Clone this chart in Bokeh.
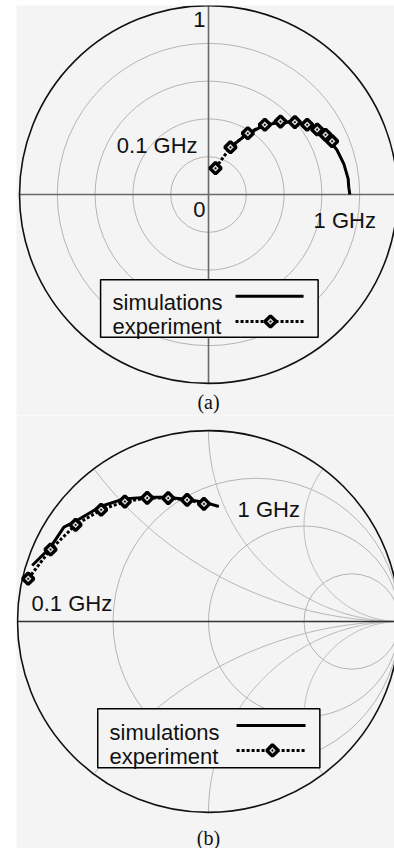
import numpy as np
from bokeh.plotting import figure
from bokeh.layouts import column
from bokeh.models import Range1d, Label
from bokeh.embed import file_html
from bokeh.resources import INLINE

# ---------------- data ----------------
# (a) polar plot: real / imaginary parts
polar_sim_re = [0.116, 0.205, 0.293, 0.381, 0.469, 0.557, 0.628, 0.681, 0.716, 0.739, 0.742, 0.748]
polar_sim_im = [0.250, 0.321, 0.365, 0.383, 0.379, 0.353, 0.303, 0.233, 0.162, 0.083, 0.039, 0.0]
polar_exp_re = [0.037, 0.116, 0.208, 0.298, 0.381, 0.457, 0.522, 0.575, 0.619, 0.654]
polar_exp_im = [0.139, 0.250, 0.324, 0.369, 0.386, 0.383, 0.369, 0.344, 0.316, 0.282]
polar_rings = [0.2, 0.4, 0.6, 0.8]

# (b) Smith chart: reflection coefficient real / imaginary parts
smith_sim_re = [-0.923, -0.827, -0.757, -0.696, -0.565, -0.443, -0.321, -0.216, -0.112, -0.024, 0.054]
smith_sim_im = [0.293, 0.389, 0.494, 0.525, 0.602, 0.642, 0.651, 0.651, 0.639, 0.625, 0.602]
smith_exp_re = [-0.944, -0.827, -0.696, -0.562, -0.438, -0.321, -0.211, -0.112, -0.024]
smith_exp_im = [0.224, 0.377, 0.506, 0.585, 0.628, 0.647, 0.646, 0.637, 0.616]
smith_resistances = [1 / 3, 1.0, 3.0]
smith_reactances = [0.5, 1.0, 2.0]

legend_labels = ["simulations", "experiment"]

# ---------------- styles ----------------
BG = "#f4f4f4"
GRID = "#b4b4b4"
AXIS = "#6a6a6a"
FONT = "Liberation Sans"
FS = "22px"
LW = 3.0
DASH = "3 2"
MK = dict(marker="square_dot", angle=np.pi / 4, size=8, line_color="black",
          line_width=3.4, fill_color="#d8d8d8")


def make_fig(h, xr, yr):
    p = figure(width=394, height=h, x_range=Range1d(*xr), y_range=Range1d(*yr),
               x_axis_type=None, y_axis_type=None, toolbar_location=None,
               output_backend="svg", min_border_left=16, min_border_right=0,
               min_border_bottom=0, min_border_top=0,
               background_fill_color=BG, border_fill_color="white",
               outline_line_color=None)
    p.grid.visible = False
    return p


def add_label(p, x, y, text, align="left", baseline="middle", font=FONT, size=FS):
    p.add_layout(Label(x=x, y=y, text=text, text_align=align, text_baseline=baseline,
                       text_font=font, text_font_size=size, text_color="#111111"))


def add_legend(p, box, text_x, base_y, line_y, sample_x, marker_x):
    p.quad(left=box[0], right=box[1], top=box[2], bottom=box[3],
           fill_color=BG, line_color="black", line_width=1.5)
    for lab, by in zip(legend_labels, base_y):
        add_label(p, text_x, by, lab, baseline="alphabetic")
    p.line(sample_x, [line_y[0], line_y[0]], line_color="black", line_width=LW)
    p.line(sample_x, [line_y[1], line_y[1]], line_color="black", line_width=LW,
           line_dash=DASH)
    p.scatter([marker_x], [line_y[1]], **MK)


# ---------------- (a) polar ----------------
pa = make_fig(415, (-1.0159, 0.9841), (-1.1693, 1.0))
pa.min_border_top = 5
pa.circle(x=[0] * len(polar_rings), y=[0] * len(polar_rings), radius=polar_rings,
          fill_color=None, line_color=GRID, line_width=1)
pa.line([-1, 1], [0, 0], line_color=AXIS, line_width=1.6)
pa.line([0, 0], [-1, 1], line_color=AXIS, line_width=1.6)
pa.circle(x=[0], y=[0], radius=[1.0], fill_color=None, line_color="#111111", line_width=1.6)

pa.line(polar_exp_re, polar_exp_im, line_color="black", line_width=LW, line_dash=DASH)
pa.line(polar_sim_re, polar_sim_im, line_color="black", line_width=LW)
pa.scatter(polar_exp_re, polar_exp_im, **MK)

add_label(pa, -0.048, 0.926, "1", align="center")
add_label(pa, -0.048, -0.077, "0", align="center")
add_label(pa, -0.058, 0.257, "0.1 GHz", align="right")
add_label(pa, 0.556, -0.135, "1 GHz")
add_legend(pa, (-0.571, 0.580, -0.451, -0.755), -0.508, (-0.573, -0.698),
           (-0.538, -0.672), [0.143, 0.503], 0.328)
add_label(pa, 0.0, -1.10, "(a)", align="center", font="Liberation Serif", size="20px")

# ---------------- (b) Smith chart ----------------
pb = make_fig(433, (-1.00524, 0.97382), (-1.18848, 1.07853))

# constant-resistance circles
pb.circle(x=[r / (1 + r) for r in smith_resistances], y=[0] * len(smith_resistances),
          radius=[1 / (1 + r) for r in smith_resistances],
          fill_color=None, line_color=GRID, line_width=1)
# constant-reactance arcs (inside the unit circle)
xs, ys = [], []
th = np.linspace(np.pi / 2, 3 * np.pi / 2, 600)
for xv in smith_reactances:
    for s in (1, -1):
        cx, cy, rad = 1.0, s / xv, 1.0 / xv
        gx = cx + rad * np.cos(th)
        gy = cy + rad * np.sin(th)
        m = gx ** 2 + gy ** 2 <= 1.0 + 1e-9
        xs.append(list(gx[m]))
        ys.append(list(gy[m]))
pb.multi_line(xs, ys, line_color=GRID, line_width=1)
pb.line([-1, 1], [0, 0], line_color="#333333", line_width=1.4)
pb.circle(x=[0], y=[0], radius=[1.0], fill_color=None, line_color="#111111", line_width=1.6)

pb.line(smith_exp_re, smith_exp_im, line_color="black", line_width=LW, line_dash=DASH)
pb.line(smith_sim_re, smith_sim_im, line_color="black", line_width=LW)
pb.scatter(smith_exp_re, smith_exp_im, **MK)

add_label(pb, 0.152, 0.589, "1 GHz")
add_label(pb, -0.927, 0.092, "0.1 GHz")
add_legend(pb, (-0.580, 0.583, -0.457, -0.766), -0.518, (-0.579, -0.707),
           (-0.545, -0.675), [0.147, 0.508], 0.335)
add_label(pb, 0.0, -1.131, "(b)", align="center", font="Liberation Serif", size="20px")

layout = column(pa, pb, spacing=0)
open("out.html", "w").write(file_html(layout, INLINE))
